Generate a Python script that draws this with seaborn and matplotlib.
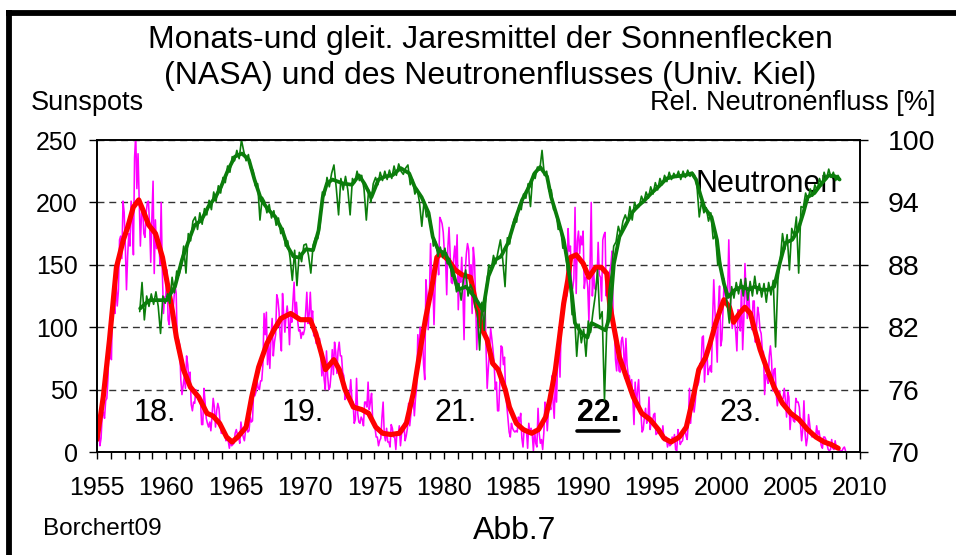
import numpy as np
import matplotlib
matplotlib.use("Agg")
import matplotlib.pyplot as plt
import seaborn as sns
from matplotlib.lines import Line2D

sns.set_theme(style="white")
plt.rcParams["font.family"] = ["Liberation Sans", "DejaVu Sans"]
plt.rcParams["text.color"] = "black"

# ---------------- data ----------------
# monthly sunspot numbers, Jan 1955 .. Dec 2008 (one row per year)
sunspots_monthly = [
    23, 21, 5, 11, 29, 32, 27, 41, 43, 59, 89, 77,
    74, 124, 118, 111, 137, 117, 129, 170, 173, 155, 201, 192,
    165, 130, 157, 175, 165, 201, 187, 158, 236, 254, 211, 239,
    203, 165, 191, 196, 175, 172, 191, 200, 201, 182, 152, 188,
    217, 143, 186, 163, 172, 169, 150, 200, 145, 111, 124, 125,
    146, 106, 102, 122, 120, 110, 122, 134, 127, 83, 90, 86,
    58, 46, 53, 61, 51, 77, 70, 56, 64, 38, 33, 40,
    39, 50, 46, 46, 44, 42, 22, 22, 51, 40, 27, 23,
    20, 24, 17, 29, 43, 36, 20, 33, 39, 35, 23, 15,
    15, 18, 17, 9, 10, 9, 3, 9, 5, 6, 7, 15,
    18, 14, 12, 7, 24, 16, 12, 9, 17, 20, 16, 17,
    28, 24, 25, 49, 45, 48, 57, 51, 50, 57, 57, 70,
    111, 94, 112, 70, 87, 67, 92, 107, 77, 88, 94, 126,
    122, 112, 92, 81, 127, 110, 96, 109, 117, 108, 86, 110,
    104, 121, 136, 107, 120, 106, 97, 98, 91, 96, 94, 98,
    112, 128, 103, 110, 128, 107, 113, 93, 100, 87, 95, 84,
    91, 79, 61, 72, 58, 50, 81, 61, 50, 52, 63, 82,
    62, 88, 80, 63, 81, 88, 77, 77, 64, 61, 42, 45,
    43, 43, 46, 58, 42, 40, 23, 26, 59, 31, 24, 23,
    28, 26, 21, 40, 40, 36, 56, 34, 40, 47, 25, 21,
    19, 12, 12, 5, 9, 11, 28, 40, 14, 9, 19, 8,
    8, 4, 22, 19, 12, 12, 2, 16, 14, 21, 5, 15,
    16, 23, 9, 13, 19, 39, 21, 30, 44, 44, 29, 43,
    52, 94, 77, 100, 83, 95, 70, 58, 138, 125, 98, 123,
    167, 138, 138, 102, 134, 150, 159, 142, 188, 186, 183, 176,
    160, 155, 126, 164, 180, 157, 136, 135, 155, 165, 148, 174,
    114, 141, 136, 156, 128, 90, 144, 159, 167, 162, 138, 150,
    111, 164, 154, 122, 82, 110, 106, 108, 119, 95, 98, 127,
    84, 51, 67, 81, 99, 91, 82, 72, 50, 56, 33, 33,
    57, 85, 84, 70, 76, 46, 37, 26, 16, 12, 23, 19,
    17, 16, 17, 16, 28, 24, 31, 11, 4, 19, 16, 17,
    3, 23, 15, 19, 14, 1, 18, 7, 4, 35, 15, 7,
    10, 2, 15, 40, 33, 17, 33, 39, 34, 61, 40, 27,
    59, 40, 76, 88, 60, 102, 114, 112, 120, 125, 125, 179,
    161, 165, 131, 131, 139, 196, 127, 169, 177, 159, 173, 166,
    177, 131, 140, 140, 132, 105, 149, 200, 125, 146, 131, 130,
    137, 168, 142, 140, 121, 170, 174, 176, 125, 144, 108, 144,
    150, 161, 107, 100, 74, 65, 86, 65, 64, 89, 92, 83,
    59, 91, 70, 62, 61, 50, 58, 42, 22, 56, 36, 49,
    58, 36, 32, 16, 18, 28, 35, 23, 26, 44, 18, 26,
    24, 30, 31, 14, 15, 16, 15, 14, 12, 21, 9, 10,
    12, 4, 9, 5, 6, 12, 8, 14, 2, 1, 18, 13,
    6, 8, 9, 16, 19, 13, 10, 24, 51, 23, 39, 41,
    32, 40, 55, 53, 56, 71, 67, 92, 93, 56, 74, 82,
    62, 66, 69, 64, 106, 138, 114, 94, 72, 117, 133, 85,
    90, 113, 139, 126, 122, 125, 170, 131, 110, 99, 107, 104,
    96, 81, 114, 108, 97, 134, 82, 106, 151, 126, 107, 132,
    114, 107, 98, 121, 121, 88, 100, 116, 110, 98, 95, 82,
    80, 46, 62, 60, 55, 77, 85, 73, 49, 66, 67, 47,
    37, 46, 49, 39, 42, 43, 51, 41, 28, 48, 44, 18,
    31, 29, 25, 24, 43, 40, 40, 36, 22, 9, 18, 41,
    15, 5, 11, 30, 22, 14, 12, 13, 14, 11, 21, 14,
    17, 11, 5, 3, 12, 12, 10, 6, 2, 1, 2, 10,
    3, 2, 9, 3, 3, 3, 1, 1, 1, 3, 4, 1,
]
sunspots_start = 1955.0

# running annual mean of sunspots
sunspot_mean_years = [
    1955.0, 1955.45, 1955.9, 1956.4, 1956.9, 1957.21, 1957.61, 1958.01, 1958.31, 1958.72,
    1959.22, 1959.72, 1960.02, 1960.42, 1960.72, 1961.23, 1961.73, 1962.33, 1962.93, 1963.34,
    1963.84, 1964.34, 1964.74, 1965.14, 1965.75, 1966.15, 1966.65, 1967.25, 1967.76, 1968.26,
    1968.96, 1969.66, 1970.37, 1970.77, 1971.17, 1971.47, 1972.07, 1972.47, 1972.88, 1973.48,
    1974.08, 1974.58, 1975.09, 1975.59, 1976.19, 1976.79, 1977.3, 1977.8, 1978.3, 1978.7,
    1979.1, 1979.5, 1979.8, 1980.31, 1980.81, 1981.31, 1981.92, 1982.42, 1982.82, 1983.12,
    1983.52, 1983.92, 1984.43, 1984.73, 1985.23, 1985.73, 1986.33, 1986.83, 1987.34, 1987.64,
    1988.04, 1988.34, 1988.64, 1988.94, 1989.14, 1989.55, 1990.05, 1990.45, 1990.95, 1991.35,
    1991.75, 1991.95, 1992.26, 1992.66, 1993.16, 1993.66, 1994.27, 1994.87, 1995.47, 1995.87,
    1996.38, 1996.98, 1997.48, 1997.98, 1998.38, 1998.88, 1999.19, 1999.59, 1999.99, 2000.19,
    2000.59, 2000.89, 2001.3, 2001.7, 2002.1, 2002.4, 2002.8, 2003.31, 2003.81, 2004.41,
    2005.01, 2005.61, 2006.22, 2006.82, 2007.42, 2007.92, 2008.43,
]
sunspot_mean = [
    10, 44, 90, 148, 170, 180, 196, 202, 194, 182,
    175, 156, 138, 114, 92, 66, 52, 44, 31, 29,
    23, 12, 8, 12, 20, 44, 68, 87, 98, 107,
    111, 106, 106, 95, 79, 66, 74, 66, 50, 36,
    34, 31, 20, 15, 14, 15, 23, 47, 82, 108,
    130, 156, 159, 154, 146, 142, 140, 114, 97, 90,
    71, 66, 50, 36, 23, 18, 15, 18, 28, 42,
    66, 92, 119, 138, 156, 158, 151, 140, 148, 148,
    143, 119, 100, 76, 60, 44, 31, 26, 18, 11,
    8, 12, 20, 44, 66, 76, 87, 103, 116, 122,
    116, 104, 111, 116, 111, 98, 82, 66, 52, 39,
    31, 26, 18, 12, 8, 6, 3,
]

# neutron flux (Kiel), bimonthly samples from early 1958 (one row per year)
neutron_monthly = [
    83.5, 86.3, 82.7, 85.0, 84.0, 85.2,
    84.2, 85.4, 84.0, 81.4, 85.0, 84.3,
    85.2, 84.3, 86.8, 85.3, 87.4, 87.0,
    88.0, 89.8, 87.2, 91.0, 90.3, 92.2,
    92.6, 91.4, 93.0, 91.9, 93.4, 92.8,
    94.2, 93.3, 95.0, 94.1, 95.6, 94.9,
    96.4, 95.9, 97.5, 96.9, 98.4, 98.0,
    99.0, 98.2, 100.0, 98.9, 98.0, 98.6,
    97.2, 97.1, 95.6, 95.8, 92.3, 94.5,
    94.1, 93.0, 93.8, 92.5, 93.2, 91.8,
    92.5, 91.0, 91.5, 89.8, 90.3, 88.7,
    86.5, 89.4, 86.0, 89.2, 88.3, 89.9,
    90.0, 88.9, 87.2, 89.9, 90.6, 90.5,
    91.8, 95.0, 94.7, 96.4, 95.5, 96.8,
    97.6, 95.4, 92.8, 96.3, 95.2, 96.5,
    95.2, 92.8, 96.3, 95.9, 97.0, 96.1,
    96.6, 95.3, 92.3, 95.2, 94.0, 95.8,
    96.4, 95.7, 96.9, 96.1, 97.0, 96.2,
    97.1, 96.3, 97.5, 96.6, 97.7, 97.0,
    96.7, 97.3, 97.6, 95.7, 96.2, 94.8,
    95.3, 94.0, 91.7, 94.2, 92.6, 93.0,
    91.9, 89.8, 90.2, 88.8, 89.7, 88.7,
    89.6, 88.1, 88.6, 86.9, 87.1, 85.4,
    86.2, 84.6, 86.5, 87.5, 85.0, 86.1,
    85.6, 84.0, 83.5, 79.8, 84.4, 81.7,
    86.0, 88.0, 87.5, 88.9, 88.1, 89.3,
    90.4, 88.5, 85.9, 90.6, 90.0, 91.6,
    92.4, 92.1, 93.7, 93.3, 94.8, 94.4,
    95.8, 93.6, 96.7, 96.3, 97.4, 97.1,
    99.0, 96.6, 97.0, 95.1, 95.2, 93.3,
    93.2, 91.4, 91.6, 89.6, 89.6, 87.5,
    86.5, 83.2, 83.4, 79.2, 82.3, 80.5,
    81.8, 79.2, 82.6, 81.5, 83.4, 85.0,
    87.5, 82.8, 83.5, 75.0, 82.0, 85.6,
    87.2, 89.8, 90.2, 91.7, 90.9, 92.2,
    92.8, 92.1, 93.6, 92.3, 94.0, 93.4,
    93.6, 94.6, 94.0, 95.0, 94.4, 95.5,
    94.8, 95.9, 95.2, 96.3, 95.7, 96.6,
    96.0, 96.9, 96.2, 96.8, 96.4, 97.0,
    96.2, 97.0, 96.4, 97.1, 96.5, 96.9,
    96.6, 95.6, 92.6, 94.1, 93.0, 93.5,
    92.2, 93.0, 90.5, 90.8, 88.0, 88.4,
    86.9, 85.8, 84.4, 82.4, 85.9, 84.8,
    86.3, 85.2, 86.6, 85.0, 86.7, 84.6,
    86.4, 85.0, 86.9, 85.2, 86.2, 84.9,
    86.2, 84.4, 86.3, 85.1, 86.5, 80.1,
    86.5, 88.4, 91.0, 89.5, 90.9, 87.5,
    91.5, 90.8, 92.6, 87.2, 93.6, 93.5,
    94.9, 94.2, 95.3, 94.6, 95.7, 95.2,
    96.3, 95.6, 96.9, 96.2, 97.2, 96.4,
    96.9, 96.1, 96.6, 96.2,
]
neutron_start = 1958.08

# running annual mean of the neutron flux
neutron_mean_years = [
    1958.11, 1958.51, 1958.81, 1959.62, 1960.02, 1960.62, 1961.13, 1961.63, 1962.03, 1962.53,
    1963.03, 1963.54, 1963.94, 1964.44, 1964.94, 1965.45, 1965.95, 1966.35, 1966.85, 1967.35,
    1967.86, 1968.36, 1968.76, 1969.16, 1969.56, 1970.06, 1970.57, 1970.97, 1971.27, 1971.57,
    1971.97, 1972.37, 1972.78, 1973.38, 1973.88, 1974.28, 1974.78, 1975.29, 1975.79, 1976.29,
    1976.89, 1977.5, 1977.9, 1978.4, 1978.9, 1979.2, 1979.6, 1980.11, 1980.61, 1981.01,
    1981.61, 1982.22, 1982.82, 1983.22, 1983.72, 1984.12, 1984.63, 1985.13, 1985.63, 1986.14,
    1986.54, 1986.94, 1987.44, 1987.74, 1988.24, 1988.64, 1988.94, 1989.25, 1989.45, 1989.95,
    1990.35, 1990.65, 1991.25, 1991.65, 1991.95, 1992.26, 1992.66, 1993.06, 1993.56, 1993.96,
    1994.47, 1994.97, 1995.47, 1996.07, 1996.68, 1997.38, 1997.88, 1998.18, 1998.48, 1998.78,
    1999.29, 1999.69, 1999.89, 2000.19, 2000.49, 2000.99, 2001.5, 2002.0, 2002.4, 2002.9,
    2003.41, 2003.81, 2004.21, 2004.61, 2005.11, 2005.52, 2005.92, 2006.22, 2006.72, 2007.22,
    2007.73, 2008.23, 2008.53,
]
neutron_mean = [
    83.8, 84.3, 84.6, 84.6, 84.6, 85.9, 88.5, 90.4, 91.8, 92.3,
    93.6, 94.5, 95.5, 97.1, 98.4, 98.7, 98.1, 96.2, 94.2, 93.3,
    92.6, 91.3, 89.7, 88.8, 88.7, 89.5, 89.4, 91.3, 94.5, 95.8,
    96.2, 96.0, 95.8, 95.7, 96.6, 95.8, 94.5, 96.2, 96.5, 96.6,
    97.3, 96.8, 95.5, 94.5, 93.0, 90.7, 89.4, 89.1, 87.5, 85.6,
    85.9, 84.9, 83.6, 86.9, 88.5, 88.8, 90.1, 92.3, 94.2, 95.5,
    96.8, 97.4, 96.5, 94.5, 92.3, 90.4, 88.1, 85.0, 82.4, 81.4,
    81.0, 82.4, 82.0, 81.7, 83.0, 88.1, 90.7, 91.7, 93.0, 93.6,
    94.2, 94.9, 95.5, 96.3, 96.5, 96.6, 96.8, 96.2, 94.8, 93.5,
    92.6, 90.4, 88.1, 86.2, 84.9, 85.6, 85.9, 85.6, 85.9, 85.6,
    85.6, 85.9, 88.1, 90.1, 90.4, 91.3, 93.0, 94.5, 94.9, 95.8,
    96.6, 96.5, 96.2,
]

sunspot_ticks = [0, 50, 100, 150, 200, 250]
neutron_ticks = [70, 76, 82, 88, 94, 100]
year_ticks = list(range(1955, 2011, 5))
cycle_labels = ["18.", "19.", "21.", "22.", "23."]
cycle_label_years = [1959.2, 1969.8, 1980.85, 1991.1, 2001.4]

# ---------------- figure ----------------
W, H = 956, 555
fig = plt.figure(figsize=(W / 100, H / 100), dpi=100)
fig.patch.set_facecolor("white")

left_px, right_px, top_px, bot_px = 97, 860, 140, 452
ax = fig.add_axes([left_px / W, 1 - bot_px / H, (right_px - left_px) / W, (bot_px - top_px) / H])
ax2 = ax.twinx()

sun_x = sunspots_start + (np.arange(len(sunspots_monthly)) + 0.5) / 12
neu_x = neutron_start + np.arange(len(neutron_monthly)) / 6

sns.lineplot(x=sun_x, y=sunspots_monthly, ax=ax, color="#ff00ff", linewidth=1.15,
             estimator=None, sort=False)
sns.lineplot(x=sunspot_mean_years, y=sunspot_mean, ax=ax, color="#ff0000", linewidth=3.7,
             estimator=None, sort=False)
sns.lineplot(x=neu_x, y=neutron_monthly, ax=ax2, color="#0b7d0b", linewidth=1.2,
             estimator=None, sort=False)
sns.lineplot(x=neutron_mean_years, y=neutron_mean, ax=ax2, color="#0b7d0b", linewidth=2.7,
             estimator=None, sort=False)

for line in ax.lines + ax2.lines:
    line.set_solid_joinstyle("round")

ax.set_xlim(1955, 2010)
ax.set_ylim(0, 250)
ax2.set_ylim(70, 100)
ax.set_xlabel("")
ax.set_ylabel("")
ax2.set_ylabel("")

ax.set_yticks(sunspot_ticks)
ax.set_yticklabels([str(t) for t in sunspot_ticks])
ax.set_xticks(year_ticks)
ax.set_xticklabels([str(t) for t in year_ticks])
ax.set_xticks(range(1955, 2011), minor=True)
ax2.set_yticks(neutron_ticks)
ax2.set_yticklabels([str(t) for t in neutron_ticks])

ax.yaxis.grid(True, linestyle=(0, (5, 3.5)), color="#333333", linewidth=1.0)
ax.xaxis.grid(False)
ax2.grid(False)
ax.set_axisbelow(True)

ax.tick_params(axis="y", which="both", left=True, direction="out", length=6, width=1,
               color="black", labelsize=18, labelcolor="black", pad=8)
ax.tick_params(axis="x", which="both", bottom=True, direction="out", length=5, width=1,
               color="black", labelsize=18, labelcolor="black", pad=12)
ax2.tick_params(axis="y", right=True, direction="out", length=6, width=1,
                color="black", labelsize=20.5, labelcolor="black", pad=14)

for a in (ax, ax2):
    for s in a.spines.values():
        s.set_color("black")
        s.set_linewidth(1.2)

# cycle labels
label_y = (452 - 413) * 250 / 312
texts = []
for lab, yr in zip(cycle_labels, cycle_label_years):
    bold = lab == "22."
    t = ax.text(yr, label_y, lab, ha="center", va="center", fontsize=22,
                fontweight="bold" if bold else "normal", color="black", zorder=5)
    texts.append(t)

ax2.text(2003.3, 95.8, "Neutronen", ha="center", va="center", fontsize=22,
         color="black", zorder=1)

# titles / labels
fig.text(490 / W, 1 - 40 / H, "Monats-und gleit. Jaresmittel der Sonnenflecken",
         ha="center", va="center", fontsize=23)
fig.text(490 / W, 1 - 76 / H, "(NASA) und des Neutronenflusses (Univ. Kiel)",
         ha="center", va="center", fontsize=23)
fig.text(31 / W, 1 - 103 / H, "Sunspots", ha="left", va="center", fontsize=19.5)
fig.text(935 / W, 1 - 103 / H, "Rel. Neutronenfluss [%]", ha="right", va="center",
         fontsize=19.5)
fig.text(43 / W, 1 - 529 / H, "Borchert09", ha="left", va="center", fontsize=17.5)
fig.text(515 / W, 1 - 531 / H, "Abb.7", ha="center", va="center", fontsize=23)

# underline the bold "22."
fig.canvas.draw()
bb = texts[3].get_window_extent()
uy = (bb.y0 - 3) / fig.bbox.height
fig.add_artist(Line2D([bb.x0 / fig.bbox.width, bb.x1 / fig.bbox.width], [uy, uy],
                      color="black", linewidth=2.6))

# thick frame (top and left edges visible)
fig.add_artist(Line2D([6 / W, 1.02], [1 - 12.5 / H, 1 - 12.5 / H], color="black",
                      linewidth=4.2, solid_capstyle="butt"))
fig.add_artist(Line2D([8.5 / W, 8.5 / W], [1 - 10 / H, -0.02], color="black",
                      linewidth=4.2, solid_capstyle="butt"))

fig.savefig("out.png", dpi=100, facecolor="white")
